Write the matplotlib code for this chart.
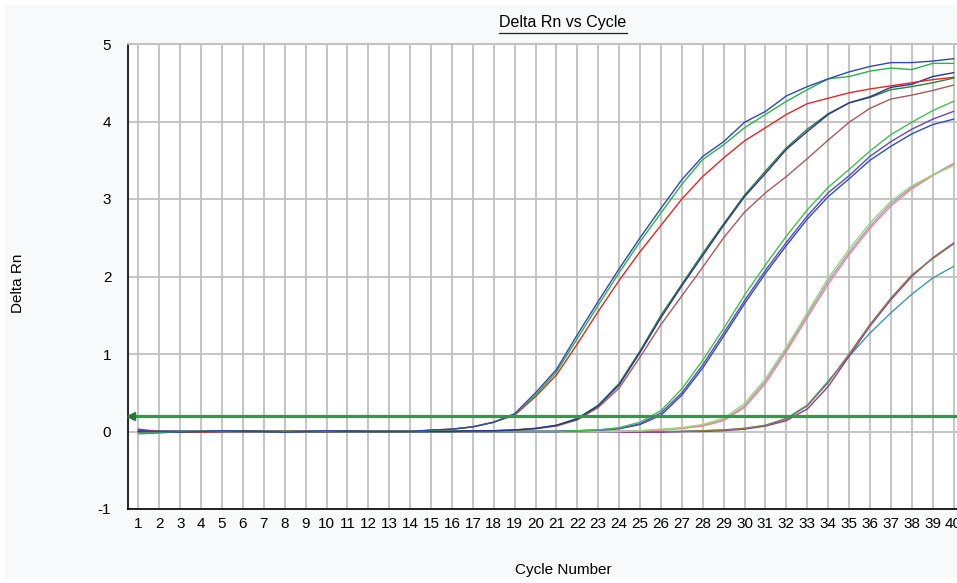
import matplotlib
matplotlib.use("Agg")
import matplotlib.pyplot as plt
from matplotlib.patches import Rectangle
from matplotlib.lines import Line2D

plt.rcParams['font.family'] = ['Liberation Sans', 'DejaVu Sans']
plt.rcParams['axes.unicode_minus'] = False

cycles = list(range(1, 41))
threshold = 0.2

# Delta Rn per cycle (5 dilutions x 3 replicates)
a_blue = [0.01, 0.00, -0.01, 0.00, 0.01, 0.00, 0.00, -0.01, 0.00, 0.01, 0.00, 0.00, 0.00, 0.00,
          0.02, 0.03, 0.06, 0.12, 0.23, 0.50, 0.80, 1.25, 1.68, 2.10, 2.50, 2.88, 3.25, 3.55,
          3.74, 3.99, 4.13, 4.33, 4.45, 4.55, 4.64, 4.71, 4.76, 4.76, 4.78, 4.81]
a_green = [-0.03, -0.02, 0.00, 0.00, 0.01, 0.00, 0.00, 0.00, 0.00, 0.00, 0.00, 0.00, 0.00, 0.00,
           0.015, 0.03, 0.06, 0.12, 0.22, 0.47, 0.77, 1.20, 1.63, 2.05, 2.45, 2.82, 3.19, 3.51,
           3.70, 3.92, 4.09, 4.26, 4.41, 4.55, 4.58, 4.65, 4.69, 4.67, 4.75, 4.75]
a_red = [0.03, 0.00, -0.01, -0.01, 0.00, 0.00, 0.00, 0.00, 0.00, 0.00, 0.00, 0.00, 0.00, 0.00,
         0.015, 0.03, 0.06, 0.12, 0.21, 0.45, 0.73, 1.13, 1.55, 1.95, 2.32, 2.66, 3.00, 3.29,
         3.53, 3.75, 3.92, 4.09, 4.23, 4.30, 4.37, 4.42, 4.46, 4.50, 4.54, 4.57]
b_navy = [0.00, 0.00, 0.00, 0.00, 0.00, 0.01, 0.00, 0.00, 0.00, 0.00, 0.01, 0.00, 0.00, 0.00,
          0.00, 0.00, 0.01, 0.01, 0.02, 0.04, 0.08, 0.16, 0.33, 0.60, 1.02, 1.47, 1.88, 2.27,
          2.66, 3.03, 3.33, 3.64, 3.87, 4.09, 4.24, 4.32, 4.44, 4.48, 4.58, 4.63]
b_dkgreen = [0.00, 0.00, 0.00, 0.00, 0.01, 0.01, 0.00, 0.00, 0.00, 0.00, 0.00, 0.00, 0.00, 0.00,
             0.00, 0.00, 0.01, 0.01, 0.02, 0.04, 0.08, 0.17, 0.34, 0.62, 1.04, 1.50, 1.90, 2.30,
             2.68, 3.05, 3.36, 3.66, 3.90, 4.10, 4.24, 4.31, 4.41, 4.45, 4.50, 4.56]
b_brown = [0.00, 0.00, 0.00, 0.00, 0.00, 0.00, 0.00, 0.00, 0.00, 0.00, 0.00, 0.00, 0.00, 0.00,
           0.00, 0.00, 0.00, 0.01, 0.015, 0.035, 0.07, 0.15, 0.31, 0.56, 0.96, 1.38, 1.75, 2.12,
           2.50, 2.83, 3.08, 3.29, 3.52, 3.76, 3.99, 4.17, 4.29, 4.34, 4.40, 4.47]
c_green = [0.00, -0.01, 0.00, 0.00, 0.00, 0.00, 0.00, 0.00, 0.00, 0.00, 0.00, 0.00, 0.00, 0.00,
           0.00, 0.00, 0.00, 0.00, 0.00, 0.00, 0.00, 0.01, 0.02, 0.05, 0.12, 0.27, 0.55, 0.92,
           1.33, 1.76, 2.15, 2.52, 2.86, 3.15, 3.38, 3.62, 3.83, 3.99, 4.14, 4.26]
c_purple = [0.00, 0.00, 0.00, 0.00, 0.00, 0.00, 0.00, 0.00, 0.00, -0.01, 0.00, 0.00, 0.00, 0.00,
            0.00, 0.00, 0.00, 0.00, 0.00, 0.00, 0.00, 0.01, 0.02, 0.04, 0.10, 0.24, 0.50, 0.86,
            1.27, 1.69, 2.08, 2.44, 2.78, 3.08, 3.30, 3.55, 3.74, 3.90, 4.03, 4.13]
c_blue = [0.00, 0.00, 0.00, 0.00, 0.00, 0.00, 0.00, 0.00, 0.00, 0.00, 0.00, 0.00, 0.00, 0.00,
          0.00, 0.00, 0.00, 0.00, 0.00, 0.00, 0.00, 0.01, 0.015, 0.035, 0.09, 0.21, 0.47, 0.82,
          1.23, 1.65, 2.04, 2.40, 2.74, 3.03, 3.26, 3.50, 3.68, 3.84, 3.96, 4.03]
d_ltgreen = [-0.02, -0.01, 0.00, 0.00, 0.00, 0.00, 0.00, 0.00, 0.00, 0.00, 0.00, 0.00, 0.00, 0.00,
             0.00, 0.00, 0.00, 0.00, 0.00, 0.00, 0.00, 0.00, 0.00, 0.00, 0.01, 0.03, 0.05, 0.09,
             0.17, 0.36, 0.68, 1.09, 1.53, 1.98, 2.35, 2.69, 2.97, 3.17, 3.31, 3.43]
d_pink = [0.00, 0.00, 0.00, 0.00, 0.00, 0.00, 0.00, 0.00, 0.00, 0.00, 0.00, 0.00, 0.00, 0.00,
          0.00, 0.00, 0.00, 0.00, 0.00, 0.00, 0.00, 0.00, 0.00, 0.00, 0.01, 0.02, 0.04, 0.07,
          0.14, 0.31, 0.62, 1.03, 1.47, 1.90, 2.28, 2.62, 2.91, 3.13, 3.30, 3.45]
d_lavender = [0.00, 0.00, 0.00, 0.00, 0.00, 0.00, 0.00, 0.00, 0.00, 0.00, 0.00, 0.00, 0.00, 0.00,
              0.00, 0.00, 0.00, 0.00, 0.00, 0.00, 0.00, 0.00, 0.00, 0.00, 0.01, 0.02, 0.04, 0.08,
              0.15, 0.33, 0.65, 1.06, 1.50, 1.94, 2.31, 2.65, 2.94, 3.15, 3.31, 3.46]
e_olive = [0.00, 0.00, 0.00, 0.00, 0.00, 0.00, 0.00, 0.00, 0.00, 0.00, 0.00, 0.00, 0.00, 0.00,
           0.00, 0.00, 0.00, 0.00, 0.00, 0.00, 0.00, 0.00, 0.00, 0.00, 0.00, 0.00, 0.00, 0.01,
           0.02, 0.04, 0.08, 0.16, 0.33, 0.63, 1.00, 1.38, 1.72, 2.02, 2.23, 2.42]
e_purple = [0.00, 0.00, 0.00, 0.00, 0.00, 0.00, 0.00, 0.00, 0.00, 0.00, 0.00, 0.00, 0.00, 0.00,
            0.00, 0.00, 0.00, 0.00, 0.00, 0.00, 0.00, 0.00, 0.00, -0.01, -0.01, -0.01, 0.00, 0.00,
            0.01, 0.03, 0.07, 0.14, 0.29, 0.58, 0.97, 1.36, 1.70, 2.00, 2.24, 2.43]
e_teal = [0.00, 0.00, 0.00, 0.00, 0.00, 0.00, 0.00, 0.00, 0.00, 0.00, 0.00, 0.00, 0.00, 0.00,
          0.00, 0.00, 0.00, 0.00, 0.00, 0.00, 0.00, 0.00, 0.00, 0.00, 0.00, 0.00, 0.00, 0.01,
          0.02, 0.04, 0.08, 0.17, 0.34, 0.65, 0.97, 1.27, 1.53, 1.77, 1.98, 2.13]

curves = [
    (e_teal, '#3a9c9c'), (e_purple, '#8a3aa8'), (e_olive, '#8a7a40'),
    (d_lavender, '#a898e0'), (d_pink, '#f08888'), (d_ltgreen, '#98d878'),
    (c_blue, '#2a4cc8'), (c_purple, '#6248b8'), (c_green, '#40c050'),
    (b_brown, '#a85a5a'), (b_dkgreen, '#2f7f3c'), (b_navy, '#2c3590'),
    (a_red, '#e02828'), (a_green, '#28b448'), (a_blue, '#3048b0'),
]

fig = plt.figure(figsize=(9.57, 5.83), dpi=100, facecolor='white')
fig.add_artist(Rectangle((5 / 957, 5 / 583), 1.0, 573 / 583, transform=fig.transFigure,
                         facecolor='#f8f9fb', edgecolor='none', zorder=-10))

ax = fig.add_axes([128 / 957, 74 / 583, 836 / 957, 465 / 583])
ax.set_facecolor('white')

for vals, col in curves:
    ax.plot(cycles, vals, color=col, lw=1.0, zorder=3)

ax.axhline(threshold, color='#2e9b48', lw=2.3, zorder=4)
ax.plot([0.62], [threshold], marker='<', ms=6, color='#1f7a38', zorder=5, clip_on=False)

ax.set_xlim(0.5, 40.5)
ax.set_ylim(-1, 5)
ax.set_xticks(cycles)
ax.set_yticks(range(-1, 6))
ax.grid(True, color='#c0c0c0', lw=1.3)
ax.set_axisbelow(True)
ax.tick_params(length=0, labelsize=11, colors='black')
ax.tick_params(axis='y', pad=12)
ax.tick_params(axis='x', pad=6)

for s in ['left', 'bottom']:
    ax.spines[s].set_color('black')
    ax.spines[s].set_linewidth(1.2)
ax.spines['top'].set_color('#c0c0c0')
ax.spines['top'].set_linewidth(1.3)
ax.spines['right'].set_visible(False)

fig.text(18 / 957, 1 - 283 / 583, 'Delta Rn', rotation=90, ha='center', va='center', fontsize=11)
fig.text(563 / 957, 1 - 570 / 583, 'Cycle Number', ha='center', va='center', fontsize=11)
title = fig.text(563 / 957, 1 - 27 / 583, 'Delta Rn vs Cycle', ha='center', va='baseline',
                 fontsize=11.5)

# underline the title
fig.canvas.draw()
bb = title.get_window_extent(fig.canvas.get_renderer())
uy = (bb.y0 - 2.5) / fig.bbox.height
fig.add_artist(Line2D([bb.x0 / fig.bbox.width, bb.x1 / fig.bbox.width], [uy, uy],
                      transform=fig.transFigure, color='#222222', lw=0.9))

fig.savefig('out.png', dpi=100, facecolor=fig.get_facecolor())
